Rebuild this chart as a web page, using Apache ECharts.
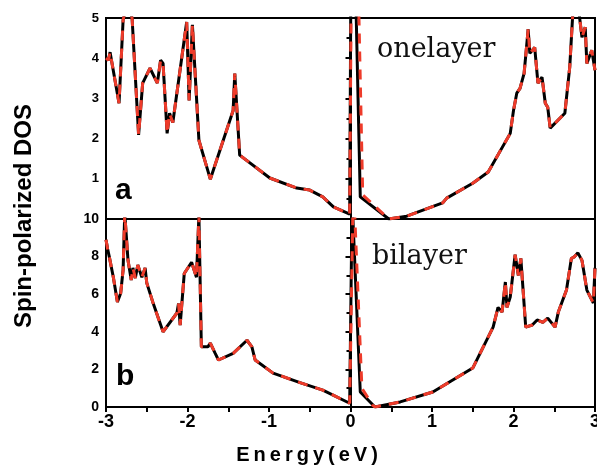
<!DOCTYPE html>
<html>
<head>
<meta charset="utf-8">
<script src="https://cdn.jsdelivr.net/npm/echarts@6/dist/echarts.min.js"></script>
<style>
    html, body { margin: 0; padding: 0; background: #fff; }
    #chart { width: 597px; height: 468px; }
</style>
</head>
<body>
<div id="chart"></div>
<script>
    // energy ticks
    const energyTicks = [-3, -2, -1, 0, 1, 2, 3];

    // onelayer, [E, DOS] below the Fermi level (same for both spins)
    const oneLeft = [[-3.0,4.0],[-2.97,3.95],[-2.95,4.15],[-2.84,2.88],[-2.79,4.95],[-2.74,5.4],[-2.68,5.0],
        [-2.60,2.09],[-2.55,3.38],[-2.46,3.75],[-2.37,3.38],[-2.33,3.95],[-2.30,3.87],[-2.25,2.13],
        [-2.22,2.63],[-2.18,2.4],[-2.01,4.9],[-1.98,2.95],[-1.94,4.83],[-1.86,1.96],[-1.72,0.99],
        [-1.44,2.7],[-1.42,3.62],[-1.36,1.59],[-0.99,1.02],[-0.66,0.77],[-0.5,0.72],[-0.34,0.55],
        [-0.21,0.30],[-0.01,0.12]];
    // spike at E=0, spin up (black) and spin down (red)
    const oneSpikeUp = [[0.0,0.12],[0.015,10],[0.12,0.55]];
    const oneSpikeDown = [[0.0,0.12],[0.03,12],[0.15,0.6]];
    const oneRight = [[0.47,0.0],[0.69,0.07],[1.13,0.4],[1.18,0.52],[1.5,0.89],[1.69,1.17],[1.96,2.13],
        [2.0,2.7],[2.04,3.13],[2.08,3.25],[2.13,3.62],[2.18,4.72],[2.20,4.12],[2.26,4.27],[2.30,3.38],
        [2.35,3.53],[2.39,2.88],[2.42,2.78],[2.45,2.26],[2.63,2.63],[2.69,3.78],[2.73,5.2],[2.76,5.6],
        [2.80,5.2],[2.84,4.52],[2.88,4.77],[2.90,3.87],[2.96,4.2],[3.0,3.7]];

    // bilayer
    const biLeft = [[-3.0,8.9],[-2.98,8.4],[-2.96,8.0],[-2.91,6.9],[-2.86,5.58],[-2.82,6.05],[-2.79,7.3],
        [-2.77,10.3],[-2.73,7.8],[-2.69,6.75],[-2.67,7.4],[-2.64,6.86],[-2.61,7.55],[-2.56,6.9],
        [-2.52,7.4],[-2.5,6.6],[-2.42,5.5],[-2.30,4.0],[-2.13,5.0],[-2.11,5.5],[-2.09,4.36],[-2.04,7.1],
        [-1.95,7.7],[-1.89,6.9],[-1.86,10.2],[-1.83,3.2],[-1.75,3.2],[-1.72,3.4],[-1.66,2.85],
        [-1.62,2.5],[-1.44,2.85],[-1.27,3.55],[-1.21,3.2],[-1.17,2.5],[-0.95,1.8],[-0.62,1.3],
        [-0.34,0.9],[-0.01,0.2]];
    const biSpikeUp = [[0.0,0.2],[0.02,11],[0.12,0.8]];
    const biSpikeDown = [[0.0,0.2],[0.035,12],[0.14,1.0],[0.27,0.1]];
    const biRight = [[0.3,0.0],[0.61,0.27],[1.01,0.8],[1.5,2.07],[1.75,4.25],[1.81,5.3],[1.86,5.05],
        [1.9,6.65],[1.92,5.3],[1.96,5.85],[2.02,8.1],[2.06,7.0],[2.09,7.9],[2.15,4.25],[2.23,4.36],
        [2.29,4.63],[2.36,4.5],[2.42,4.73],[2.51,4.25],[2.55,5.05],[2.65,6.22],[2.71,7.9],[2.75,8.0],
        [2.79,8.2],[2.84,7.8],[2.9,6.22],[2.98,5.53],[3.0,7.4]];

    const BLACK = '#000';
    const RED = '#ee3b2a';
    const labelFont = 'Liberation Sans, Arial, sans-serif';

    let myChart = echarts.init(document.getElementById('chart'), null, {renderer: 'canvas'});

    function xAxisOf(gridIndex, showLabels) {
        return {
            type: 'value', gridIndex: gridIndex, min: -3, max: 3, interval: 1,
            axisLine: {show: true, onZero: false, lineStyle: {color: BLACK, width: 2}},
            axisTick: {show: showLabels, inside: false, length: 5, lineStyle: {color: BLACK, width: 2}},
            minorTick: {show: showLabels, splitNumber: 2, length: 5, lineStyle: {color: BLACK, width: 2}},
            axisLabel: {show: showLabels, color: BLACK, fontFamily: labelFont, fontWeight: 'bold',
                fontSize: 18, margin: 6,
                formatter: v => energyTicks.indexOf(v) >= 0 ? String(v) : ''},
            splitLine: {show: false}
        };
    }

    myChart.setOption({
        backgroundColor: '#fff',
        animation: false,
        grid: [
            {left: 106, top: 18, width: 489, height: 201, show: true, borderColor: BLACK, borderWidth: 2,
                outerBoundsMode: 'none', containLabel: false},
            {left: 106, top: 219, width: 489, height: 188, show: true, borderColor: BLACK, borderWidth: 2,
                outerBoundsMode: 'none', containLabel: false}
        ],
        xAxis: [xAxisOf(0, false), xAxisOf(1, true)],
        yAxis: [
            {
                type: 'value', gridIndex: 0, min: 0, max: 5, interval: 1,
                axisLine: {show: true, lineStyle: {color: BLACK, width: 2}},
                axisTick: {show: true, length: 5, lineStyle: {color: BLACK, width: 2}},
                minorTick: {show: true, splitNumber: 2, length: 4, lineStyle: {color: BLACK, width: 2}},
                axisLabel: {color: BLACK, fontFamily: labelFont, fontWeight: 'bold', fontSize: 13,
                    margin: 7, showMinLabel: false},
                splitLine: {show: false}
            },
            {
                type: 'value', gridIndex: 1, min: 0, max: 10, interval: 2,
                axisLine: {show: true, lineStyle: {color: BLACK, width: 2}},
                axisTick: {show: true, length: 5, lineStyle: {color: BLACK, width: 2}},
                minorTick: {show: true, splitNumber: 2, length: 4, lineStyle: {color: BLACK, width: 2}},
                axisLabel: {color: BLACK, fontFamily: labelFont, fontWeight: 'bold', fontSize: 14, margin: 7},
                splitLine: {show: false}
            }
        ],
        series: [
            {type: 'line', xAxisIndex: 0, yAxisIndex: 0, symbol: 'none', clip: true,
                data: oneLeft.concat(oneSpikeUp, oneRight),
                lineStyle: {color: BLACK, width: 3}},
            {type: 'line', xAxisIndex: 0, yAxisIndex: 0, symbol: 'none', clip: true,
                data: oneLeft.concat(oneSpikeDown, oneRight),
                lineStyle: {color: RED, width: 3, type: [10, 8]}},
            {type: 'line', xAxisIndex: 1, yAxisIndex: 1, symbol: 'none', clip: true,
                data: biLeft.concat(biSpikeUp, biRight),
                lineStyle: {color: BLACK, width: 3}},
            {type: 'line', xAxisIndex: 1, yAxisIndex: 1, symbol: 'none', clip: true,
                data: biLeft.concat(biSpikeDown, biRight),
                lineStyle: {color: RED, width: 3, type: [10, 8]}}
        ],
        graphic: [
            {type: 'text', left: 115, top: 176, style: {text: 'a', fill: BLACK,
                font: 'bold 30px Liberation Sans, Arial, sans-serif'}},
            {type: 'text', left: 116, top: 362, style: {text: 'b', fill: BLACK,
                font: 'bold 30px Liberation Sans, Arial, sans-serif'}},
            {type: 'text', left: 377, top: 36, style: {text: 'onelayer', fill: '#111',
                font: '27px DejaVu Serif, serif'}},
            {type: 'text', left: 372, top: 243, style: {text: 'bilayer', fill: '#111',
                font: '27px DejaVu Serif, serif'}},
            {type: 'text', x: 307, y: 455, style: {text: 'E\u2009n\u2009e\u2009r\u2009g\u2009y\u2009(\u2009e\u2009V\u2009)',
                fill: BLACK, align: 'center', verticalAlign: 'middle',
                font: 'bold 20px Liberation Sans, Arial, sans-serif'}},
            {type: 'text', x: 24, y: 216, rotation: Math.PI / 2, style: {text: 'Spin-polarized DOS',
                fill: BLACK, align: 'center', verticalAlign: 'middle',
                font: 'bold 24px Liberation Sans, Arial, sans-serif'}}
        ]
    });
</script>
</body>
</html>
